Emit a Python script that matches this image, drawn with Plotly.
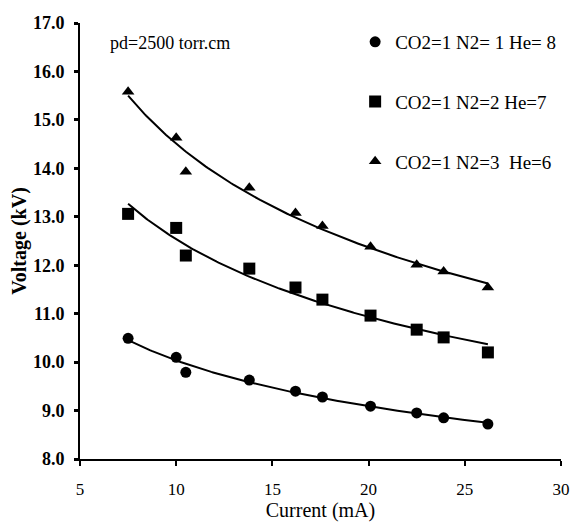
import numpy as np
import plotly.graph_objects as go

# Discharge current (mA) shared by all three gas mixtures
current = [7.5, 10.0, 10.5, 13.8, 16.2, 17.6, 20.1, 22.5, 23.9, 26.2]

# Operating voltage (kV) for each CO2:N2:He mixture
v_mix_118 = [10.49, 10.10, 9.79, 9.63, 9.40, 9.28, 9.09, 8.95, 8.85, 8.72]
v_mix_127 = [13.06, 12.77, 12.20, 11.93, 11.54, 11.29, 10.96, 10.67, 10.51, 10.20]
v_mix_136 = [15.58, 14.63, 13.93, 13.60, 13.08, 12.81, 12.38, 12.01, 11.87, 11.54]

series_names = ["CO2=1 N2= 1 He= 8", "CO2=1 N2=2 He=7", "CO2=1 N2=3  He=6"]
series_values = [v_mix_118, v_mix_127, v_mix_136]
series_symbols = ["circle", "square", "triangle-up"]
series_sizes = [11, 12, 11]

x_ticks = [5, 10, 15, 20, 25, 30]
y_ticks = [8, 9, 10, 11, 12, 13, 14, 15, 16, 17]

SERIF = "Liberation Serif"

fig = go.Figure()

# Power-law trendline (V = a * I^b) fitted to each mixture's measurements
x_arr = np.array(current)
x_fit = np.linspace(x_arr.min(), x_arr.max(), 200)
for vals in series_values:
    b, ln_a = np.polyfit(np.log(x_arr), np.log(np.array(vals)), 1)
    fig.add_trace(go.Scatter(
        x=x_fit, y=np.exp(ln_a) * x_fit ** b, mode="lines",
        line=dict(color="black", width=2), showlegend=False, hoverinfo="skip",
    ))

# Measured points
for i, (name, vals, sym, sz) in enumerate(zip(series_names, series_values, series_symbols, series_sizes)):
    fig.add_trace(go.Scatter(
        x=current, y=vals, mode="markers", name=name, legendgroup=f"g{i}",
        marker=dict(symbol=sym, size=sz, color="black"),
    ))

fig.add_annotation(
    text="pd=2500 torr.cm", xref="paper", yref="paper", x=0.187, y=0.954,
    xanchor="center", yanchor="middle",
    showarrow=False, font=dict(family=SERIF, size=18, color="black"),
)

fig.update_layout(
    width=571, height=526,
    margin=dict(l=80, r=10, t=23, b=67, autoexpand=False),
    paper_bgcolor="white", plot_bgcolor="white",
    font=dict(family=SERIF, color="black"),
    legend=dict(
        x=0.572, y=1.0, xanchor="left", yanchor="top",
        font=dict(family=SERIF, size=19, color="black"),
        tracegroupgap=32, bgcolor="rgba(0,0,0,0)",
    ),
    xaxis=dict(
        range=[5, 30], tickvals=x_ticks, ticktext=[str(t) for t in x_ticks],
        automargin=False,
        showgrid=False, zeroline=False, showline=True, linecolor="black", linewidth=2,
        ticks="outside", ticklen=5, tickwidth=2, tickcolor="black",
        ticklabelstandoff=9,
        tickfont=dict(family=SERIF, size=17, color="black"),
        title=dict(text="Current (mA)", font=dict(family=SERIF, size=20, color="black"), standoff=4),
    ),
    yaxis=dict(
        range=[8, 17], tickvals=y_ticks, ticktext=[f"{t:.1f}" for t in y_ticks],
        automargin=False,
        showgrid=False, zeroline=False, showline=True, linecolor="black", linewidth=2,
        ticks="outside", ticklen=4, tickwidth=3, tickcolor="black",
        ticklabelstandoff=6,
        tickfont=dict(family=SERIF, size=18, color="black", weight="bold"),
        title=dict(text="<b>Voltage (kV)</b>", font=dict(family=SERIF, size=20, color="black"), standoff=1),
    ),
)

fig.write_html("out.html")
